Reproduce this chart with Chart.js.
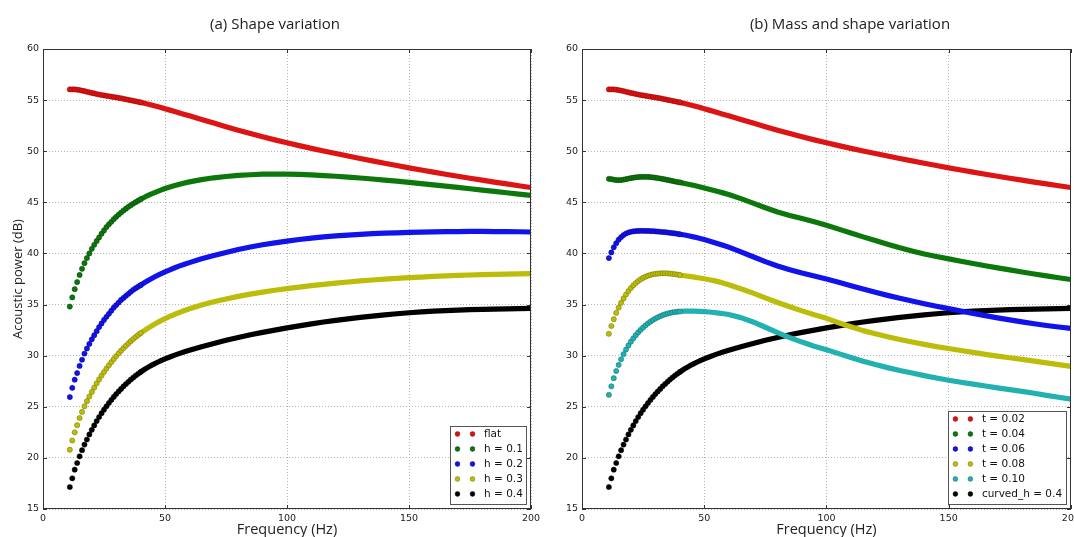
<!DOCTYPE html>
<html>
<head>
<meta charset="utf-8">
<script src="https://cdn.jsdelivr.net/npm/chart.js@4"></script>
<style>
  html, body { margin: 0; padding: 0; background: #fff; }
  #wrap { position: relative; width: 1074px; height: 537px; overflow: hidden; background: #fff; }
  canvas { position: absolute; top: 0; }
  #chartA { left: 0; }
  #chartB { left: 545px; }
</style>
</head>
<body>
<div id="wrap">
  <canvas id="chartA" width="545" height="537"></canvas>
  <canvas id="chartB" width="529" height="537"></canvas>
</div>
<script>
// frequency grid (Hz) the curves were read at: every 1 Hz at the steep start, coarser later
const freq = [11,12,13,14,15,16,17,18,19,20,21,22,23,24,25,26,27,28,29,30,31,32,33,34,35,36,37,38,39,40,
  42,44,46,48,50,52,54,56,58,60,
  65,70,75,80,85,90,95,100,105,110,115,120,125,130,135,140,145,150,155,160,165,170,175,180,185,190,195,200];

// (a) shape variation
const flat = [56.05,56.05,56.05,56.02,55.98,55.93,55.88,55.82,55.76,55.7,55.65,55.6,55.55,55.5,55.46,55.42,55.38,55.34,55.3,55.26,55.22,55.18,55.13,55.08,55.03,54.98,54.93,54.88,54.83,54.78,
  54.67,54.55,54.43,54.3,54.15,54.02,53.88,53.74,53.6,53.46,
  53.1,52.75,52.4,52.06,51.73,51.41,51.11,50.83,50.55,50.28,50.02,49.77,49.53,49.29,49.06,48.83,48.6,48.37,48.16,47.95,47.75,47.55,47.36,47.17,46.98,46.8,46.62,46.45];
const h01 = [34.8,35.7,36.5,37.2,37.9,38.5,39.05,39.55,40.0,40.45,40.85,41.22,41.57,41.93,42.25,42.58,42.85,43.1,43.35,43.58,43.8,44.0,44.2,44.38,44.56,44.72,44.88,45.02,45.16,45.3,
  45.55,45.78,45.98,46.17,46.35,46.5,46.64,46.77,46.89,47.0,
  47.22,47.4,47.53,47.63,47.7,47.75,47.77,47.76,47.73,47.68,47.62,47.55,47.47,47.38,47.28,47.18,47.07,46.95,46.83,46.71,46.59,46.46,46.33,46.2,46.07,45.94,45.81,45.68];
const h02 = [25.95,26.85,27.65,28.3,29.0,29.6,30.2,30.7,31.15,31.6,32.0,32.4,32.8,33.15,33.5,33.8,34.1,34.4,34.7,34.95,35.2,35.45,35.65,35.85,36.05,36.25,36.45,36.6,36.75,36.9,
  37.2,37.48,37.74,37.98,38.2,38.4,38.6,38.78,38.95,39.1,
  39.48,39.8,40.1,40.38,40.63,40.85,41.04,41.2,41.36,41.5,41.62,41.72,41.8,41.87,41.93,41.98,42.02,42.06,42.09,42.11,42.13,42.14,42.15,42.15,42.14,42.13,42.12,42.1];
const h03 = [20.8,21.7,22.5,23.2,23.9,24.5,25.05,25.55,26.0,26.45,26.88,27.29,27.68,28.05,28.4,28.74,29.06,29.37,29.67,29.96,30.23,30.49,30.74,30.97,31.2,31.42,31.63,31.83,32.02,32.2,
  32.53,32.84,33.12,33.38,33.62,33.84,34.05,34.24,34.42,34.58,
  34.95,35.27,35.55,35.8,36.02,36.22,36.4,36.56,36.71,36.85,36.98,37.1,37.21,37.31,37.4,37.48,37.56,37.63,37.69,37.75,37.8,37.85,37.89,37.93,37.96,37.98,38.0,38.02];
const h04 = [17.15,18.0,18.85,19.5,20.15,20.75,21.3,21.8,22.3,22.75,23.18,23.6,24.0,24.37,24.72,25.05,25.37,25.67,25.96,26.24,26.5,26.75,27.0,27.23,27.45,27.66,27.86,28.05,28.23,28.4,
  28.72,29.0,29.25,29.48,29.68,29.87,30.05,30.22,30.38,30.53,
  30.88,31.2,31.5,31.78,32.04,32.28,32.5,32.72,32.92,33.11,33.29,33.45,33.6,33.74,33.87,33.99,34.1,34.2,34.28,34.35,34.41,34.46,34.5,34.53,34.56,34.58,34.6,34.62];

// (b) mass and shape variation; t = 0.02 and curved_h = 0.4 lie on the same curves as flat and h = 0.4
const t002 = flat;
const curvedH04 = h04;
const t004 = [47.3,47.27,47.22,47.18,47.17,47.18,47.22,47.27,47.32,47.37,47.41,47.45,47.47,47.49,47.5,47.5,47.49,47.47,47.44,47.41,47.37,47.33,47.29,47.24,47.19,47.14,47.09,47.04,46.99,46.95,
  46.85,46.75,46.64,46.52,46.4,46.28,46.16,46.03,45.9,45.76,
  45.36,44.92,44.47,44.05,43.72,43.42,43.1,42.76,42.38,42.0,41.62,41.26,40.9,40.55,40.24,39.95,39.7,39.47,39.24,39.02,38.8,38.59,38.39,38.19,37.99,37.8,37.62,37.45];
const t006 = [39.55,40.1,40.6,41.0,41.35,41.6,41.8,41.95,42.05,42.12,42.16,42.19,42.2,42.21,42.21,42.2,42.2,42.19,42.18,42.16,42.14,42.12,42.1,42.08,42.05,42.02,41.99,41.96,41.92,41.88,
  41.8,41.7,41.6,41.48,41.36,41.22,41.08,40.93,40.78,40.62,
  40.15,39.68,39.2,38.77,38.4,38.08,37.8,37.5,37.18,36.85,36.52,36.2,35.9,35.62,35.35,35.08,34.83,34.6,34.37,34.14,33.92,33.7,33.5,33.3,33.12,32.95,32.8,32.66];
const t008 = [32.14,32.9,33.57,34.19,34.7,35.17,35.6,35.98,36.32,36.62,36.88,37.1,37.3,37.47,37.61,37.73,37.83,37.9,37.96,38.0,38.03,38.05,38.06,38.06,38.05,38.03,38.0,37.97,37.93,37.89,
  37.82,37.75,37.68,37.6,37.52,37.43,37.34,37.22,37.08,36.93,
  36.55,36.12,35.65,35.2,34.78,34.38,34.0,33.65,33.22,32.82,32.45,32.14,31.85,31.58,31.33,31.1,30.88,30.7,30.5,30.32,30.13,29.96,29.8,29.63,29.46,29.3,29.12,28.95];
const t010 = [26.17,27.0,27.8,28.5,29.1,29.65,30.15,30.6,31.0,31.37,31.7,32.0,32.28,32.53,32.76,32.97,33.16,33.33,33.49,33.63,33.75,33.86,33.96,34.05,34.12,34.18,34.23,34.27,34.3,34.32,
  34.35,34.36,34.36,34.34,34.31,34.27,34.22,34.16,34.1,34.03,
  33.72,33.3,32.78,32.25,31.77,31.33,30.93,30.58,30.2,29.82,29.46,29.13,28.83,28.55,28.3,28.05,27.82,27.6,27.4,27.21,27.03,26.85,26.68,26.51,26.32,26.12,25.93,25.75];

const xTicks = [0, 50, 100, 150, 200];
const yTicks = [15, 20, 25, 30, 35, 40, 45, 50, 55, 60];

const C = {
  red:    ["#dc1414", "#900000"],
  green:  ["#0c780c", "#003c00"],
  blue:   ["#1212ea", "#00008a"],
  yellow: ["#bcbc0a", "#707000"],
  cyan:   ["#22b0b0", "#106868"],
  black:  ["#000000", "#000000"]
};

const el = (id) => document.getElementById(id);

function series(label, vals, col) {
  const [fill, edge] = col;
  return {
    label,
    data: freq.map((f, i) => ({ x: f, y: vals[i] })),
    showLine: true,
    borderColor: fill,
    backgroundColor: fill,
    borderWidth: 5.2,
    borderCapStyle: "round",
    borderJoinStyle: "round",
    pointBackgroundColor: fill,
    pointBorderColor: edge,
    pointBorderWidth: 0.5,
    pointRadius: (c) => (c.raw && c.raw.x <= 40 ? 2.6 : 0),
    pointHoverRadius: 0,
    // 1 Hz steps are shown as separate dots, coarser steps as a dense band
    segment: { borderColor: (c) => (c.p1.parsed.x - c.p0.parsed.x > 1.5 ? fill : "rgba(0,0,0,0)") },
    tension: 0
  };
}

// frame, inward ticks, title and the in-plot legend
const decor = {
  id: "decor",
  afterDraw(chart, args, opts) {
    const { ctx, chartArea: a, scales } = chart;
    ctx.save();
    ctx.strokeStyle = "#333";
    ctx.lineWidth = 1;
    ctx.beginPath();
    xTicks.forEach(v => {
      const px = Math.round(scales.x.getPixelForValue(v)) + 0.5;
      ctx.moveTo(px, a.bottom); ctx.lineTo(px, a.bottom - 4);
      ctx.moveTo(px, a.top); ctx.lineTo(px, a.top + 4);
    });
    yTicks.forEach(v => {
      const py = Math.round(scales.y.getPixelForValue(v)) + 0.5;
      ctx.moveTo(a.left, py); ctx.lineTo(a.left + 4, py);
      ctx.moveTo(a.right, py); ctx.lineTo(a.right - 4, py);
    });
    ctx.stroke();
    ctx.strokeRect(Math.round(a.left) + 0.5, Math.round(a.top) + 0.5, Math.round(a.right - a.left) - 1, Math.round(a.bottom - a.top) - 1);

    ctx.fillStyle = "#222";
    ctx.font = "15px 'Open Sans'";
    ctx.textAlign = "center";
    ctx.textBaseline = "middle";
    ctx.fillText(opts.title, opts.titleX, 25);

    // legend box in lower right corner
    const ds = chart.data.datasets;
    const rowH = 15;
    const w = opts.legendW, h = ds.length * rowH + 3;
    const right = a.right - 5, bottom = a.bottom - 5;
    const left = right - w, top = bottom - h;
    ctx.fillStyle = "#fff";
    ctx.fillRect(left, top, w, h);
    ctx.strokeStyle = "#555";
    ctx.lineWidth = 1;
    ctx.strokeRect(Math.round(left) + 0.5, Math.round(top) + 0.5, Math.round(w), Math.round(h));
    ctx.font = "10.5px 'DejaVu Sans'";
    ctx.textAlign = "left";
    ds.forEach((d, i) => {
      const cy = top + 8 + i * rowH;
      [7.5, 22.5].forEach(dx => {
        ctx.beginPath();
        ctx.arc(left + dx, cy, 2.4, 0, Math.PI * 2);
        ctx.fillStyle = d.pointBackgroundColor;
        ctx.fill();
        ctx.lineWidth = 0.5;
        ctx.strokeStyle = d.pointBorderColor;
        ctx.stroke();
      });
      ctx.fillStyle = "#111";
      ctx.fillText(d.label, left + 34, cy + 0.5);
    });
    ctx.restore();
  }
};

function makeChart(id, datasets, opts) {
  const tickFont = { family: "'DejaVu Sans'", size: 9.5 };
  return new Chart(el(id), {
    type: "scatter",
    data: { datasets },
    options: {
      responsive: false,
      animation: false,
      devicePixelRatio: 1,
      layout: { padding: { left: 0, right: opts.padRight, top: 49, bottom: 0 } },
      plugins: { legend: { display: false }, tooltip: { enabled: false }, decor: opts },
      scales: {
        x: {
          type: "linear", min: 0, max: 200,
          afterBuildTicks: (s) => { s.ticks = xTicks.map(v => ({ value: v })); },
          afterFit: (s) => { s.height = 28; s.paddingLeft = 0; s.paddingRight = 0; },
          ticks: { color: "#222", font: tickFont, padding: 4, maxRotation: 0, autoSkip: false },
          grid: { color: "#b4b4b4", lineWidth: 1, drawTicks: false },
          border: { display: false, dash: [1, 2] },
          title: { display: true, text: "Frequency (Hz)", color: "#222",
                   font: { family: "'Open Sans'", size: 14.5 }, padding: { top: 0, bottom: -2 } }
        },
        y: {
          type: "linear", min: 15, max: 60,
          afterBuildTicks: (s) => { s.ticks = yTicks.map(v => ({ value: v })); },
          afterFit: (s) => { s.width = opts.yWidth; s.paddingTop = 0; s.paddingBottom = 0; },
          ticks: { color: "#222", font: tickFont, padding: 4, autoSkip: false },
          grid: { color: "#b4b4b4", lineWidth: 1, drawTicks: false },
          border: { display: false, dash: [1, 2] },
          title: { display: opts.yTitle, text: "Acoustic power (dB)", color: "#222",
                   font: { family: "'Open Sans'", size: 13 }, padding: { top: 10, bottom: 0 } }
        }
      }
    },
    plugins: [decor]
  });
}

makeChart("chartA", [
  series("flat", flat, C.red),
  series("h = 0.1", h01, C.green),
  series("h = 0.2", h02, C.blue),
  series("h = 0.3", h03, C.yellow),
  series("h = 0.4", h04, C.black)
], { title: "(a) Shape variation", titleX: 275, legendW: 76, padRight: 14, yWidth: 43, yTitle: true });

makeChart("chartB", [
  series("t = 0.02", t002, C.red),
  series("t = 0.04", t004, C.green),
  series("t = 0.06", t006, C.blue),
  series("t = 0.08", t008, C.yellow),
  series("t = 0.10", t010, C.cyan),
  series("curved_h = 0.4", curvedH04, C.black)
], { title: "(b) Mass and shape variation", titleX: 305, legendW: 118, padRight: 3, yWidth: 37, yTitle: false });
</script>
</body>
</html>
